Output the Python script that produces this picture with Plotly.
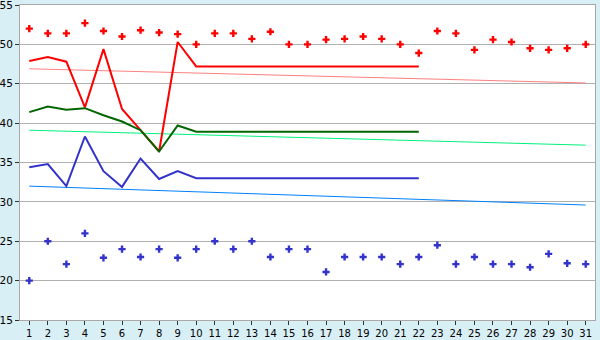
import plotly.graph_objects as go

days = list(range(1, 32))

high_points = [52.0, 51.4, 51.4, 52.7, 51.7, 51.0, 51.8, 51.5, 51.3, 50.0,
               51.4, 51.4, 50.7, 51.6, 50.0, 50.0, 50.6, 50.7, 51.0, 50.7,
               50.0, 48.9, 51.7, 51.4, 49.3, 50.6, 50.3, 49.5, 49.3, 49.5, 50.0]
low_points = [20.0, 25.0, 22.1, 26.0, 22.9, 24.0, 23.0, 24.0, 22.9, 24.0,
              25.0, 24.0, 25.0, 23.0, 24.0, 24.0, 21.1, 23.0, 23.0, 23.0,
              22.1, 23.0, 24.5, 22.1, 23.0, 22.1, 22.1, 21.7, 23.4, 22.2, 22.1]

line_days = list(range(1, 23))
red_line = [47.9, 48.4, 47.8, 42.0, 49.4, 41.8, 39.1, 36.4, 50.3, 47.2,
            47.2, 47.2, 47.2, 47.2, 47.2, 47.2, 47.2, 47.2, 47.2, 47.2, 47.2, 47.2]
green_line = [41.4, 42.1, 41.7, 41.9, 41.0, 40.2, 39.1, 36.4, 39.7, 38.9,
              38.9, 38.9, 38.9, 38.9, 38.9, 38.9, 38.9, 38.9, 38.9, 38.9, 38.9, 38.9]
blue_line = [34.4, 34.8, 32.0, 38.3, 33.9, 31.9, 35.5, 32.9, 33.9, 33.0,
             33.0, 33.0, 33.0, 33.0, 33.0, 33.0, 33.0, 33.0, 33.0, 33.0, 33.0, 33.0]

trend_days = [1, 31]
trend_red = [46.9, 45.1]
trend_green = [39.1, 37.2]
trend_blue = [32.0, 29.6]

y_ticks = [15, 20, 25, 30, 35, 40, 45, 50, 55]

fig = go.Figure()
fig.add_trace(go.Scatter(x=trend_days, y=trend_red, mode="lines",
                         line=dict(color="#ff8080", width=1)))
fig.add_trace(go.Scatter(x=trend_days, y=trend_green, mode="lines",
                         line=dict(color="#00f07a", width=1)))
fig.add_trace(go.Scatter(x=trend_days, y=trend_blue, mode="lines",
                         line=dict(color="#0080ff", width=1)))
fig.add_trace(go.Scatter(x=line_days, y=red_line, mode="lines",
                         line=dict(color="#ff0000", width=2)))
fig.add_trace(go.Scatter(x=line_days, y=green_line, mode="lines",
                         line=dict(color="#006600", width=2)))
fig.add_trace(go.Scatter(x=line_days, y=blue_line, mode="lines",
                         line=dict(color="#3333cc", width=2)))
fig.add_trace(go.Scatter(x=days, y=high_points, mode="markers",
                         marker=dict(symbol="cross", size=6, color="#ff0000",
                                     line=dict(width=0))))
fig.add_trace(go.Scatter(x=days, y=low_points, mode="markers",
                         marker=dict(symbol="cross", size=6, color="#3333cc",
                                     line=dict(width=0))))

fig.update_layout(
    width=600, height=340,
    margin=dict(l=20, r=5, t=5, b=20),
    paper_bgcolor="#d9eff6",
    plot_bgcolor="#ffffff",
    showlegend=False,
    font=dict(family="DejaVu Sans", size=10, color="#000000"),
)
fig.update_xaxes(
    range=[0.5, 31.5], tickvals=days, ticktext=[str(d) for d in days],
    showgrid=False, zeroline=False,
    showline=True, linecolor="#a8a8a8", linewidth=1, mirror=True,
    ticks="outside", ticklen=4, tickcolor="#333333",
    tickfont=dict(size=10), ticklabeloverflow="allow",
    automargin=False,
)
fig.update_yaxes(
    range=[15, 55], tickvals=y_ticks, ticktext=[str(v) for v in y_ticks],
    showgrid=True, gridcolor="#b0b0b0", gridwidth=1, zeroline=False,
    showline=True, linecolor="#a8a8a8", linewidth=1, mirror=True,
    ticks="outside", ticklen=4, tickcolor="#333333", ticklabelstandoff=0,
    tickfont=dict(size=10.5), ticklabeloverflow="allow",
    automargin=False,
)

fig.write_html("out.html")
